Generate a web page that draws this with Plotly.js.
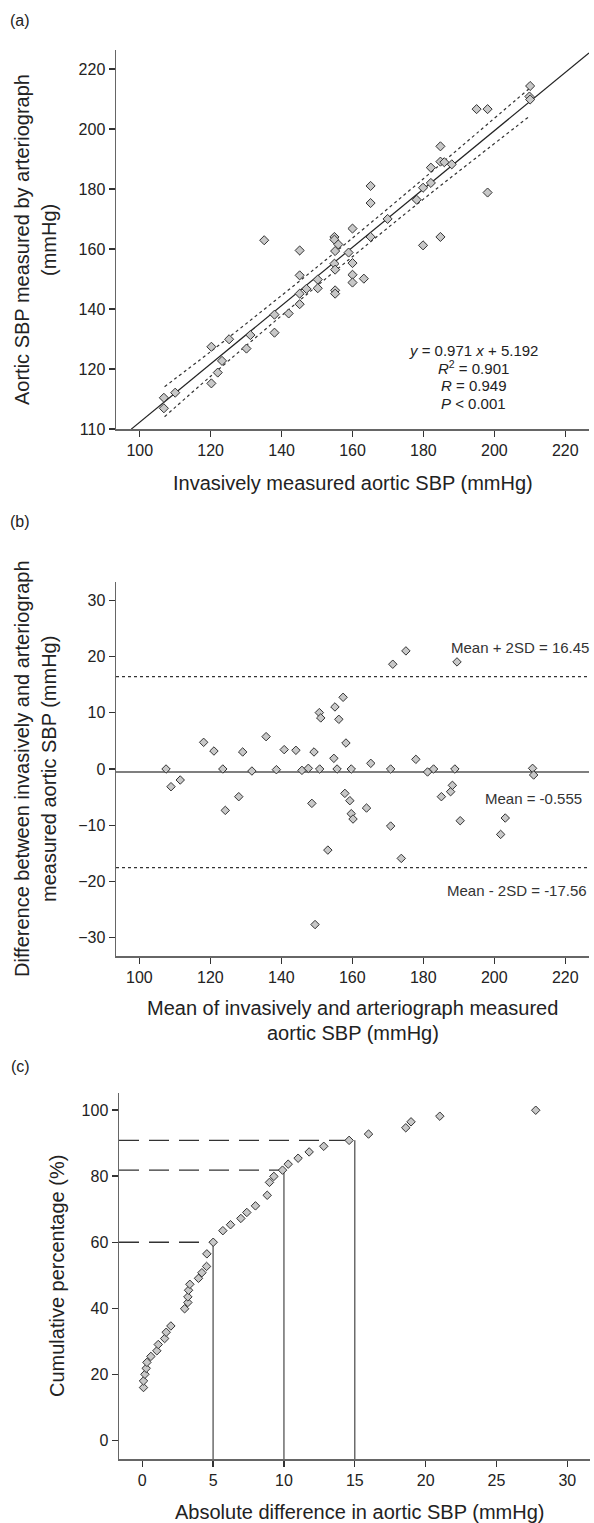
<!DOCTYPE html>
<html><head><meta charset="utf-8">
<script src="https://cdn.plot.ly/plotly-3.0.1.min.js"></script>
<style>html,body{margin:0;padding:0;background:#fff}#chart{width:594px;height:1523px}</style>
</head><body><div id="chart"></div>
<script>
// ---------- Panel (a): invasive vs arteriograph ----------
const invA = [106.8,106.8,110.0,120.2,120.2,122.0,123.2,125.2,130.1,131.2,135.1,138.0,138.0,142.0,145.1,145.1,145.1,145.1,147.0,150.2,150.2,154.9,154.9,155.1,156.0,154.9,155.1,155.1,155.1,158.9,160.0,160.0,160.0,160.0,163.2,165.1,165.1,165.1,169.9,178.1,179.9,179.9,182.1,182.1,184.8,184.8,185.9,184.8,188.0,195.0,198.1,198.1,210.1,209.9,210.1];
const artA = [110.4,106.9,112.1,127.4,115.2,118.8,122.7,129.9,126.8,131.3,162.9,138.1,132.1,138.5,159.5,151.2,145.1,141.6,146.7,149.8,146.9,164.0,163.1,159.3,161.5,155.1,153.1,146.2,145.1,158.8,166.8,155.3,151.4,148.8,150.1,181.0,175.3,164.0,170.0,176.4,180.4,161.2,187.1,182.0,194.2,189.1,188.9,164.0,188.2,206.6,206.6,178.8,214.3,210.8,209.8];
const regSlope = 0.971, regIntercept = 5.192;
const regX = [97.6, 226.7];
const ciX     = [107, 120, 140, 158, 180, 195, 210];
const ciUpper = [114.1, 125.8, 144.5, 161.7, 183.4, 198.5, 213.6];
const ciLower = [104.1, 117.6, 137.8, 155.5, 176.6, 190.5, 204.3];
const aYTickVals = [100,120,140,160,180,200,220];
const aYTickText = ['110','120','140','160','180','200','220'];
const aXTickVals = [100,120,140,160,180,200,220];
const eqLines = ['<i>y</i> = 0.971 <i>x</i> + 5.192','<i>R</i><sup>2</sup> = 0.901','<i>R</i> = 0.949','<i>P</i> &lt; 0.001'];

// ---------- Panel (b): Bland-Altman ----------
const meanB = [107.5,108.9,111.5,118.1,121.0,123.5,124.2,128.0,129.1,131.7,135.7,138.6,140.8,144.1,145.8,147.6,148.6,149.2,150.7,151.1,150.8,153.1,155.1,154.8,156.2,155.7,157.4,158.2,157.9,159.3,159.7,160.2,159.7,164.0,165.2,170.8,170.8,171.4,173.8,175.1,177.9,181.2,182.9,185.1,187.7,188.2,188.9,189.5,190.4,201.8,203.1,210.8,211.1,149.5];
const diffB = [0,-3.15,-1.96,4.75,3.2,0,-7.37,-4.93,3.03,-0.36,5.76,-0.12,3.45,3.33,-0.24,0.12,-6.12,3.03,10.04,9.09,0,-14.44,11.05,1.9,8.85,0,12.77,4.63,-4.34,-5.64,-7.96,-8.91,0,-6.95,1.01,0,-10.16,18.66,-15.92,21.03,1.72,-0.53,0,-4.93,-4.04,-2.91,0,19.07,-9.21,-11.65,-8.73,0.12,-1.07,-27.7];
const meanDiff = -0.555, upperLoA = 16.45, lowerLoA = -17.56;
const bLabels = ['Mean + 2SD = 16.45','Mean = -0.555','Mean - 2SD = -17.56'];
const bYTickVals = [-30,-20,-10,0,10,20,30];
const bXTickVals = [100,120,140,160,180,200,220];

// ---------- Panel (c): cumulative percentage ----------
const absDiffC = [0.09,0.09,0.19,0.28,0.33,0.61,1.03,1.13,1.58,1.69,2.02,2.99,3.22,3.22,3.27,3.36,3.97,4.21,4.54,4.56,5.01,5.69,6.23,6.96,7.38,7.99,8.82,8.98,9.29,9.90,10.3,11.0,11.78,12.81,14.6,15.97,18.6,18.97,21.0,27.77];
const cumPctC  = [16.1,18.1,20.1,21.9,23.7,25.5,27.2,29.1,30.9,32.8,34.7,39.9,41.8,43.5,45.5,47.3,49.1,50.8,52.7,56.5,60.0,63.5,65.3,67.2,69.0,71.0,74.2,78.1,79.9,81.8,83.6,85.4,87.3,89.0,90.8,92.7,94.6,96.4,98.1,99.9];
const cutoffs = [5, 10, 15];
const cumAtCutoff = [60, 81.8, 90.8];
const cYTickVals = [0,20,40,60,80,100];
const cXTickVals = [0,5,10,15,20,25,30];

// ---------- layout helpers ----------
const W = 594, H = 1523;
const px = x => x / W;
const py = y => 1 - y / H;
const FONT = 'Liberation Sans, Arial, Helvetica, sans-serif';

const axisBase = {
  showline: true, linecolor: '#666', linewidth: 1.5,
  ticks: 'outside', ticklen: 6, tickwidth: 1.2, tickcolor: '#333',
  showgrid: false, zeroline: false, tickfont: {size: 16, color: '#222', family: FONT},
  tickmode: 'array', fixedrange: true
};
const ax = o => Object.assign({}, axisBase, o);

const markerA = {symbol: 'diamond', size: 7, color: '#c8c8c8', line: {color: '#333', width: 1}};
const markerB = {symbol: 'diamond', size: 6.5, color: '#c8c8c8', line: {color: '#333', width: 1}};

const traces = [];
// (a)
traces.push({x: regX, y: regX.map(v => regSlope * v + regIntercept), xaxis: 'x', yaxis: 'y', mode: 'lines', line: {color: '#222', width: 1.2}, hoverinfo: 'skip'});
traces.push({x: ciX, y: ciUpper, xaxis: 'x', yaxis: 'y', mode: 'lines', line: {color: '#333', width: 1.2, dash: '3px,3px', shape: 'spline'}, hoverinfo: 'skip'});
traces.push({x: ciX, y: ciLower, xaxis: 'x', yaxis: 'y', mode: 'lines', line: {color: '#333', width: 1.2, dash: '3px,3px', shape: 'spline'}, hoverinfo: 'skip'});
traces.push({x: invA, y: artA, xaxis: 'x', yaxis: 'y', mode: 'markers', marker: markerA});
// (b)
const bx = [93.4, 226.7];
traces.push({x: bx, y: [upperLoA, upperLoA], xaxis: 'x2', yaxis: 'y2', mode: 'lines', line: {color: '#333', width: 1.2, dash: '3px,3px'}, hoverinfo: 'skip'});
traces.push({x: bx, y: [lowerLoA, lowerLoA], xaxis: 'x2', yaxis: 'y2', mode: 'lines', line: {color: '#333', width: 1.2, dash: '3px,3px'}, hoverinfo: 'skip'});
traces.push({x: bx, y: [meanDiff, meanDiff], xaxis: 'x2', yaxis: 'y2', mode: 'lines', line: {color: '#555', width: 1.5}, hoverinfo: 'skip'});
traces.push({x: meanB, y: diffB, xaxis: 'x2', yaxis: 'y2', mode: 'markers', marker: markerB});
// (c)
const cLeft = -1.64, cBottom = -5.5;
cutoffs.forEach((c, i) => {
  traces.push({x: [cLeft, c], y: [cumAtCutoff[i], cumAtCutoff[i]], xaxis: 'x3', yaxis: 'y3', mode: 'lines', line: {color: '#333', width: 1.3, dash: '20px,10px'}, hoverinfo: 'skip'});
  traces.push({x: [c, c], y: [cBottom, cumAtCutoff[i]], xaxis: 'x3', yaxis: 'y3', mode: 'lines', line: {color: '#555', width: 1.3}, hoverinfo: 'skip'});
});
traces.push({x: absDiffC, y: cumPctC, xaxis: 'x3', yaxis: 'y3', mode: 'markers', marker: markerB});

const ann = [];
const txt = (x, y, text, o) => ann.push(Object.assign({xref: 'paper', yref: 'paper', x: px(x), y: py(y), text: text, showarrow: false, xanchor: 'center', yanchor: 'middle', font: {family: FONT, size: 15, color: '#222'}}, o || {}));
// panel letters
txt(20, 21, '(a)', {font: {family: FONT, size: 16, color: '#222'}});
txt(20, 522, '(b)', {font: {family: FONT, size: 16, color: '#222'}});
txt(20, 1066, '(c)', {font: {family: FONT, size: 16, color: '#222'}});
// equation
const eqY = [350, 367.7, 385.7, 403.3];
eqLines.forEach((t, i) => txt(473.5, eqY[i], t, {font: {family: FONT, size: 15, color: '#222'}}));
// axis titles
const tf = {family: FONT, size: 20, color: '#222'};
txt(352.5, 483, 'Invasively measured aortic SBP (mmHg)', {font: tf});
txt(22, 240, 'Aortic SBP measured by arteriograph', {font: tf, textangle: -90});
txt(49, 240, '(mmHg)', {font: tf, textangle: -90});
txt(352.5, 1008, 'Mean of invasively and arteriograph measured', {font: tf});
txt(352.5, 1033, 'aortic SBP (mmHg)', {font: tf});
txt(22, 769, 'Difference between invasively and arteriograph', {font: tf, textangle: -90});
txt(49, 769, 'measured aortic SBP (mmHg)', {font: tf, textangle: -90});
txt(359, 1512, 'Absolute difference in aortic SBP (mmHg)', {font: tf});
txt(57, 1276, 'Cumulative percentage (%)', {font: tf, textangle: -90});
// Bland-Altman labels
const bLabY = [647.3, 798, 890.7];
const bLabX = [591, 584, 589];
bLabels.forEach((t, i) => txt(bLabX[i], bLabY[i], t, {xanchor: 'right', font: {family: FONT, size: 15, color: '#333'}}));

const layout = {
  width: W, height: H, margin: {l: 0, r: 0, t: 0, b: 0},
  paper_bgcolor: '#fff', plot_bgcolor: '#fff', showlegend: false,
  font: {family: FONT, color: '#222'},
  xaxis:  ax({domain: [px(116), px(589)], range: [93.3, 226.7], tickvals: aXTickVals, anchor: 'y'}),
  yaxis:  ax({domain: [py(429), py(50)], range: [100, 226.3], tickvals: aYTickVals, ticktext: aYTickText, anchor: 'x'}),
  xaxis2: ax({domain: [px(116), px(589)], range: [93.4, 226.7], tickvals: bXTickVals, anchor: 'y2'}),
  yaxis2: ax({domain: [py(956), py(582)], range: [-33.3, 33.3], tickvals: bYTickVals, anchor: 'x2'}),
  xaxis3: ax({domain: [px(119), px(590)], range: [-1.64, 31.6], tickvals: cXTickVals, anchor: 'y3'}),
  yaxis3: ax({domain: [py(1459), py(1092.7)], range: [-5.5, 105.2], tickvals: cYTickVals, anchor: 'x3'}),
  annotations: ann
};
Plotly.newPlot('chart', traces, layout, {staticPlot: true, displayModeBar: false});
</script></body></html>
